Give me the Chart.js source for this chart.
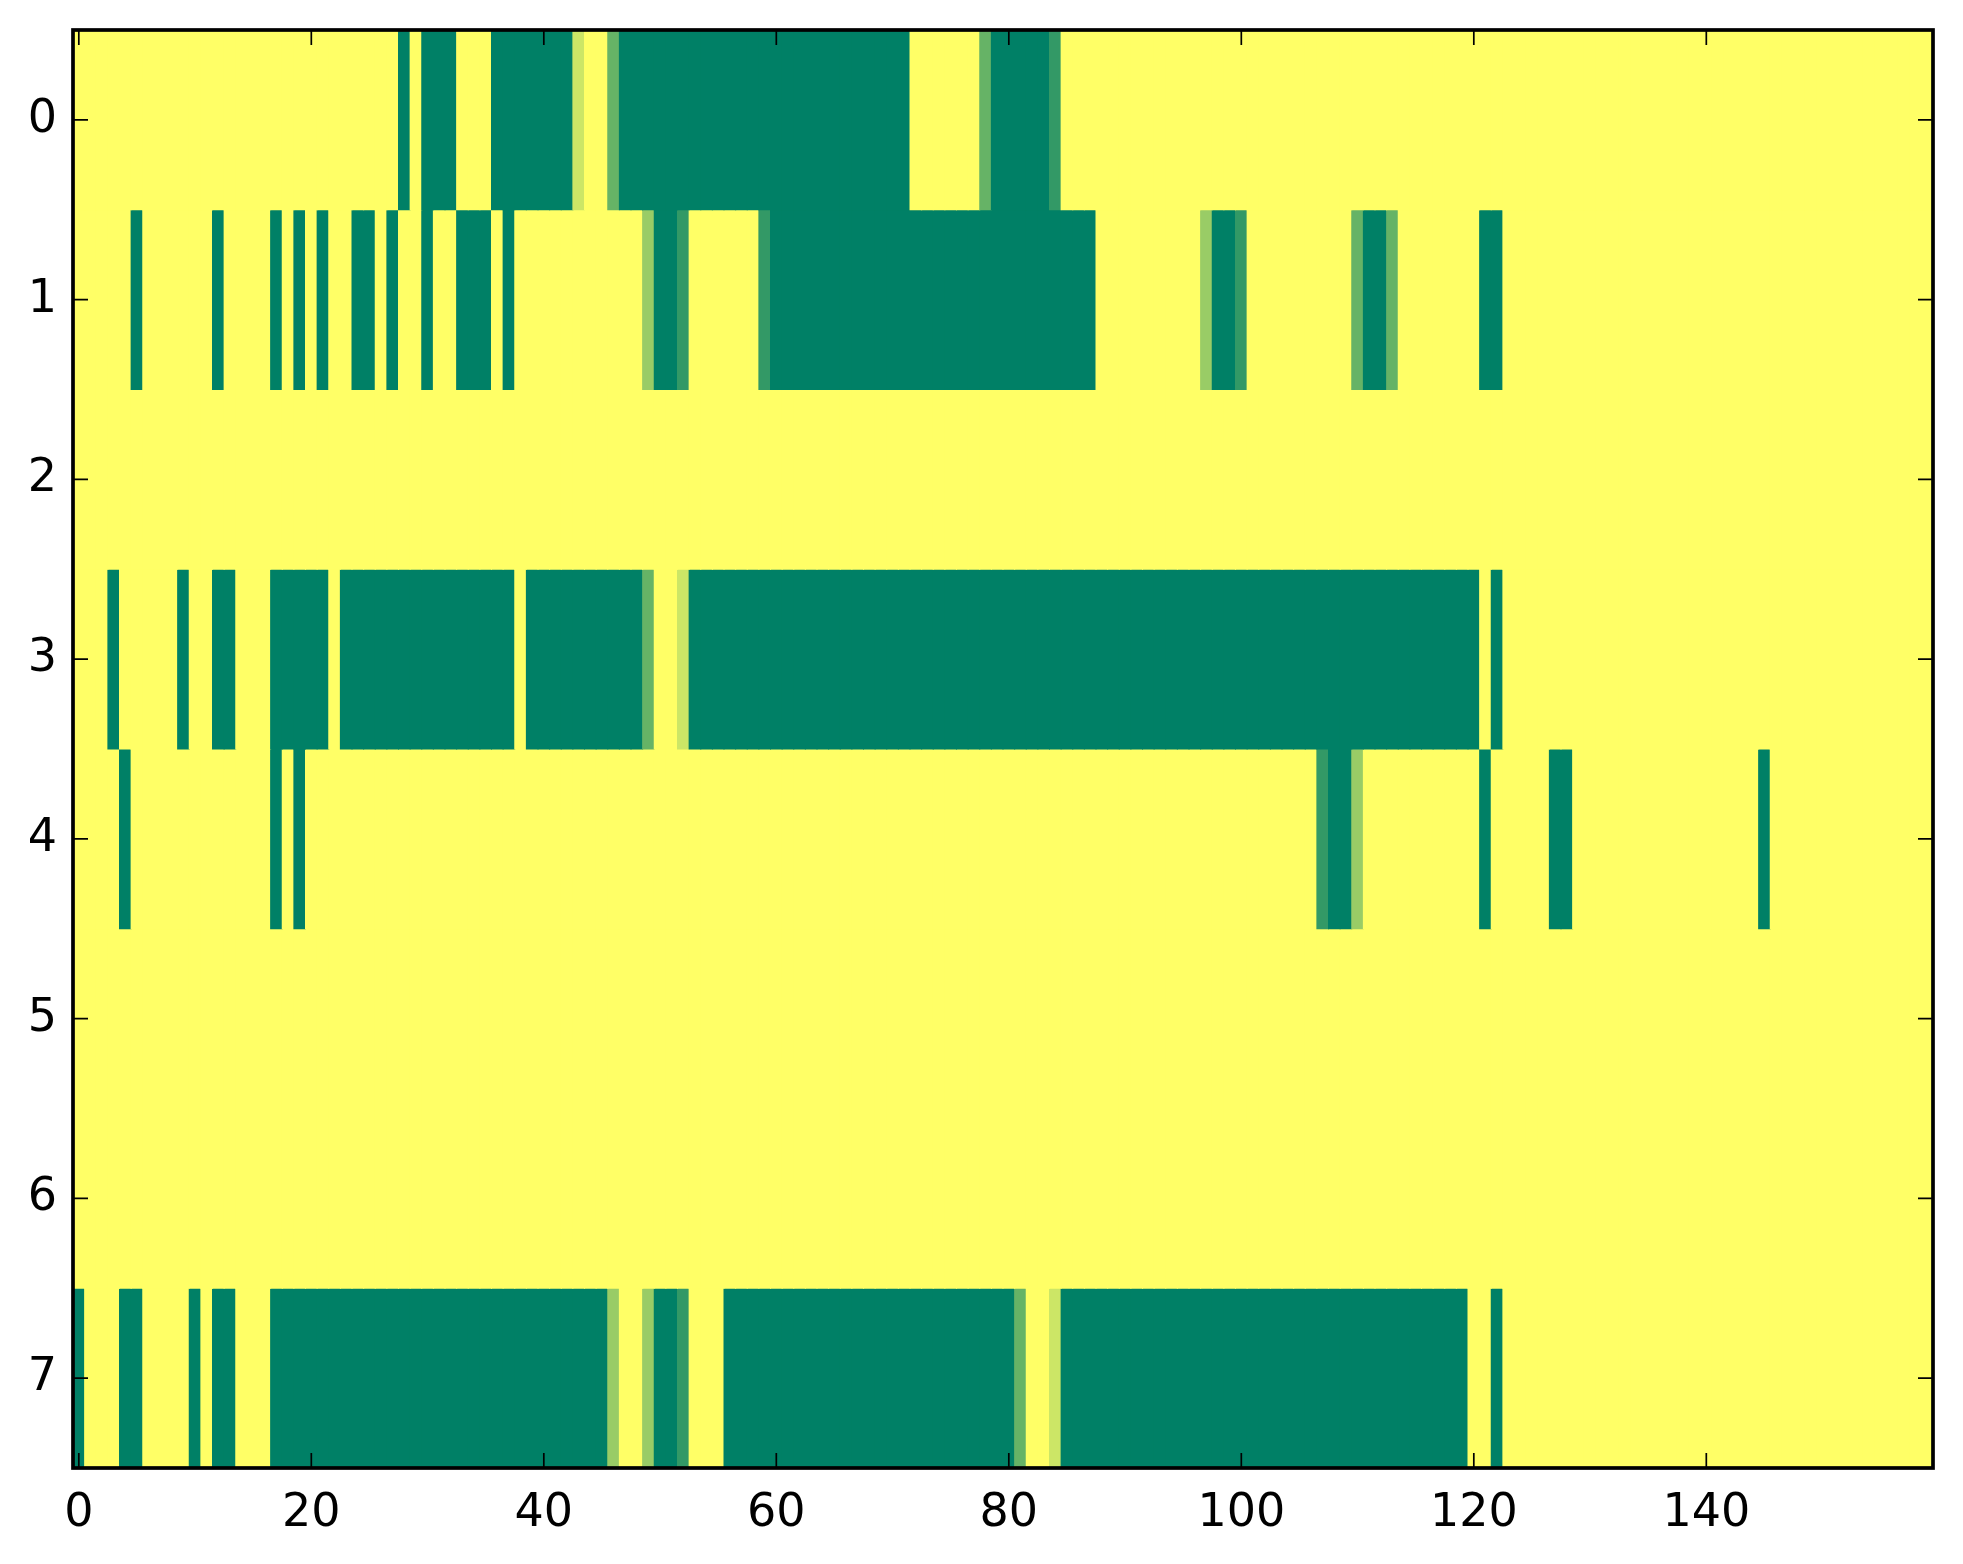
<!DOCTYPE html>
<html>
<head>
<meta charset="utf-8">
<script src="https://cdn.jsdelivr.net/npm/chart.js@4.4.1/dist/chart.umd.min.js"></script>
<style>
  html, body { margin: 0; padding: 0; background: #fff; }
  #wrap { width: 1963px; height: 1564px; position: relative; }
</style>
</head>
<body>
<div id="wrap"><canvas id="heat"></canvas></div>
<script>
// row / column tick labels
const rowTicks = [0, 1, 2, 3, 4, 5, 6, 7];
const colTicks = [0, 20, 40, 60, 80, 100, 120, 140];

// one array per row, 160 columns each (0 = yellow, 1 = dark green)
const row0 = [
    0,0,0,0,0,0,0,0,0,0,0,0,0,0,0,0,0,0,0,0,
    0,0,0,0,0,0,0,0,1,0,1,1,1,0,0,0,1,1,1,1,
    1,1,1,0.2,0,0,0.6,1,1,1,1,1,1,1,1,1,1,1,1,1,
    1,1,1,1,1,1,1,1,1,1,1,1,0,0,0,0,0,0,0.6,1,
    1,1,1,1,0.8,0,0,0,0,0,0,0,0,0,0,0,0,0,0,0,
    0,0,0,0,0,0,0,0,0,0,0,0,0,0,0,0,0,0,0,0,
    0,0,0,0,0,0,0,0,0,0,0,0,0,0,0,0,0,0,0,0,
    0,0,0,0,0,0,0,0,0,0,0,0,0,0,0,0,0,0,0,0
];
const row1 = [
    0,0,0,0,0,1,0,0,0,0,0,0,1,0,0,0,0,1,0,1,
    0,1,0,0,1,1,0,1,0,0,1,0,0,1,1,1,0,1,0,0,
    0,0,0,0,0,0,0,0,0,0.4,1,1,0.8,0,0,0,0,0,0,0.8,
    1,1,1,1,1,1,1,1,1,1,1,1,1,1,1,1,1,1,1,1,
    1,1,1,1,1,1,1,1,0,0,0,0,0,0,0,0,0,0.4,1,1,
    0.8,0,0,0,0,0,0,0,0,0,0.6,1,1,0.6,0,0,0,0,0,0,
    0,1,1,0,0,0,0,0,0,0,0,0,0,0,0,0,0,0,0,0,
    0,0,0,0,0,0,0,0,0,0,0,0,0,0,0,0,0,0,0,0
];
const row2 = [
    0,0,0,0,0,0,0,0,0,0,0,0,0,0,0,0,0,0,0,0,
    0,0,0,0,0,0,0,0,0,0,0,0,0,0,0,0,0,0,0,0,
    0,0,0,0,0,0,0,0,0,0,0,0,0,0,0,0,0,0,0,0,
    0,0,0,0,0,0,0,0,0,0,0,0,0,0,0,0,0,0,0,0,
    0,0,0,0,0,0,0,0,0,0,0,0,0,0,0,0,0,0,0,0,
    0,0,0,0,0,0,0,0,0,0,0,0,0,0,0,0,0,0,0,0,
    0,0,0,0,0,0,0,0,0,0,0,0,0,0,0,0,0,0,0,0,
    0,0,0,0,0,0,0,0,0,0,0,0,0,0,0,0,0,0,0,0
];
const row3 = [
    0,0,0,1,0,0,0,0,0,1,0,0,1,1,0,0,0,1,1,1,
    1,1,0,1,1,1,1,1,1,1,1,1,1,1,1,1,1,1,0,1,
    1,1,1,1,1,1,1,1,1,0.6,0,0,0.2,1,1,1,1,1,1,1,
    1,1,1,1,1,1,1,1,1,1,1,1,1,1,1,1,1,1,1,1,
    1,1,1,1,1,1,1,1,1,1,1,1,1,1,1,1,1,1,1,1,
    1,1,1,1,1,1,1,1,1,1,1,1,1,1,1,1,1,1,1,1,
    1,0,1,0,0,0,0,0,0,0,0,0,0,0,0,0,0,0,0,0,
    0,0,0,0,0,0,0,0,0,0,0,0,0,0,0,0,0,0,0,0
];
const row4 = [
    0,0,0,0,1,0,0,0,0,0,0,0,0,0,0,0,0,1,0,1,
    0,0,0,0,0,0,0,0,0,0,0,0,0,0,0,0,0,0,0,0,
    0,0,0,0,0,0,0,0,0,0,0,0,0,0,0,0,0,0,0,0,
    0,0,0,0,0,0,0,0,0,0,0,0,0,0,0,0,0,0,0,0,
    0,0,0,0,0,0,0,0,0,0,0,0,0,0,0,0,0,0,0,0,
    0,0,0,0,0,0,0,0.8,1,1,0.4,0,0,0,0,0,0,0,0,0,
    0,1,0,0,0,0,0,1,1,0,0,0,0,0,0,0,0,0,0,0,
    0,0,0,0,0,1,0,0,0,0,0,0,0,0,0,0,0,0,0,0
];
const row5 = [
    0,0,0,0,0,0,0,0,0,0,0,0,0,0,0,0,0,0,0,0,
    0,0,0,0,0,0,0,0,0,0,0,0,0,0,0,0,0,0,0,0,
    0,0,0,0,0,0,0,0,0,0,0,0,0,0,0,0,0,0,0,0,
    0,0,0,0,0,0,0,0,0,0,0,0,0,0,0,0,0,0,0,0,
    0,0,0,0,0,0,0,0,0,0,0,0,0,0,0,0,0,0,0,0,
    0,0,0,0,0,0,0,0,0,0,0,0,0,0,0,0,0,0,0,0,
    0,0,0,0,0,0,0,0,0,0,0,0,0,0,0,0,0,0,0,0,
    0,0,0,0,0,0,0,0,0,0,0,0,0,0,0,0,0,0,0,0
];
const row6 = [
    0,0,0,0,0,0,0,0,0,0,0,0,0,0,0,0,0,0,0,0,
    0,0,0,0,0,0,0,0,0,0,0,0,0,0,0,0,0,0,0,0,
    0,0,0,0,0,0,0,0,0,0,0,0,0,0,0,0,0,0,0,0,
    0,0,0,0,0,0,0,0,0,0,0,0,0,0,0,0,0,0,0,0,
    0,0,0,0,0,0,0,0,0,0,0,0,0,0,0,0,0,0,0,0,
    0,0,0,0,0,0,0,0,0,0,0,0,0,0,0,0,0,0,0,0,
    0,0,0,0,0,0,0,0,0,0,0,0,0,0,0,0,0,0,0,0,
    0,0,0,0,0,0,0,0,0,0,0,0,0,0,0,0,0,0,0,0
];
const row7 = [
    1,0,0,0,1,1,0,0,0,0,1,0,1,1,0,0,0,1,1,1,
    1,1,1,1,1,1,1,1,1,1,1,1,1,1,1,1,1,1,1,1,
    1,1,1,1,1,1,0.4,0,0,0.4,1,1,0.8,0,0,0,1,1,1,1,
    1,1,1,1,1,1,1,1,1,1,1,1,1,1,1,1,1,1,1,1,
    1,0.6,0,0,0.2,1,1,1,1,1,1,1,1,1,1,1,1,1,1,1,
    1,1,1,1,1,1,1,1,1,1,1,1,1,1,1,1,1,1,1,1,
    0,0,1,0,0,0,0,0,0,0,0,0,0,0,0,0,0,0,0,0,
    0,0,0,0,0,0,0,0,0,0,0,0,0,0,0,0,0,0,0,0
];

const grid = [row0, row1, row2, row3, row4, row5, row6, row7];

// matplotlib summer_r
function summerR(v) {
    const r = Math.round(255 * (1 - v));
    const g = Math.round(255 * (1 - 0.5 * v));
    return `rgb(${r},${g},102)`;
}

const font = { family: 'DejaVu Sans', size: 46 };

const datasets = grid.map((vals, r) => ({
    label: 'row ' + r,
    data: vals.map((v, c) => ({ x: c, y: [r - 0.5, r + 0.5] })),
    backgroundColor: vals.map(summerR),
    borderWidth: 0,
    inflateAmount: 0.5,
    barPercentage: 1,
    categoryPercentage: 1,
    grouped: false
}));

// inward ticks on all four sides and the black box
const frame = {
    id: 'frame',
    afterDatasetsDraw(chart) {
        const { ctx, chartArea: a, scales: { x, y } } = chart;
        const len = 15;
        ctx.save();
        ctx.strokeStyle = '#000';
        ctx.lineWidth = 1.7;
        ctx.beginPath();
        colTicks.forEach(t => {
            const px = x.getPixelForValue(t);
            ctx.moveTo(px, a.top); ctx.lineTo(px, a.top + len);
            ctx.moveTo(px, a.bottom); ctx.lineTo(px, a.bottom - len);
        });
        rowTicks.forEach(t => {
            const py = y.getPixelForValue(t);
            ctx.moveTo(a.left, py); ctx.lineTo(a.left + len, py);
            ctx.moveTo(a.right, py); ctx.lineTo(a.right - len, py);
        });
        ctx.stroke();
        ctx.lineWidth = 3.7;
        ctx.strokeRect(a.left, a.top, a.right - a.left, a.bottom - a.top);
        ctx.restore();
    }
};

new Chart(document.getElementById('heat'), {
    type: 'bar',
    data: { datasets },
    options: {
        animation: false,
        responsive: true,
        maintainAspectRatio: false,
        devicePixelRatio: 1,
        layout: { padding: { top: 30, right: 30, left: 0, bottom: 0 } },
        plugins: { legend: { display: false }, tooltip: { enabled: false } },
        scales: {
            x: {
                type: 'linear',
                min: -0.5,
                max: 159.5,
                offset: false,
                grid: { display: false, drawTicks: false },
                border: { display: false },
                ticks: { font, color: '#000', padding: 18, maxRotation: 0, autoSkip: false },
                afterBuildTicks: s => { s.ticks = colTicks.map(v => ({ value: v })); },
                afterFit: s => {
                    s.height = 96;
                    s.paddingLeft = 0;
                    s.paddingRight = 0;
                }
            },
            y: {
                type: 'linear',
                reverse: true,
                min: -0.5,
                max: 7.5,
                grid: { display: false, drawTicks: false },
                border: { display: false },
                ticks: { font, color: '#000', padding: 16, autoSkip: false },
                afterBuildTicks: s => { s.ticks = rowTicks.map(v => ({ value: v })); },
                afterFit: s => {
                    s.width = 73;
                    s.paddingTop = 0;
                    s.paddingBottom = 0;
                }
            }
        }
    },
    plugins: [frame]
});
</script>
</body>
</html>
